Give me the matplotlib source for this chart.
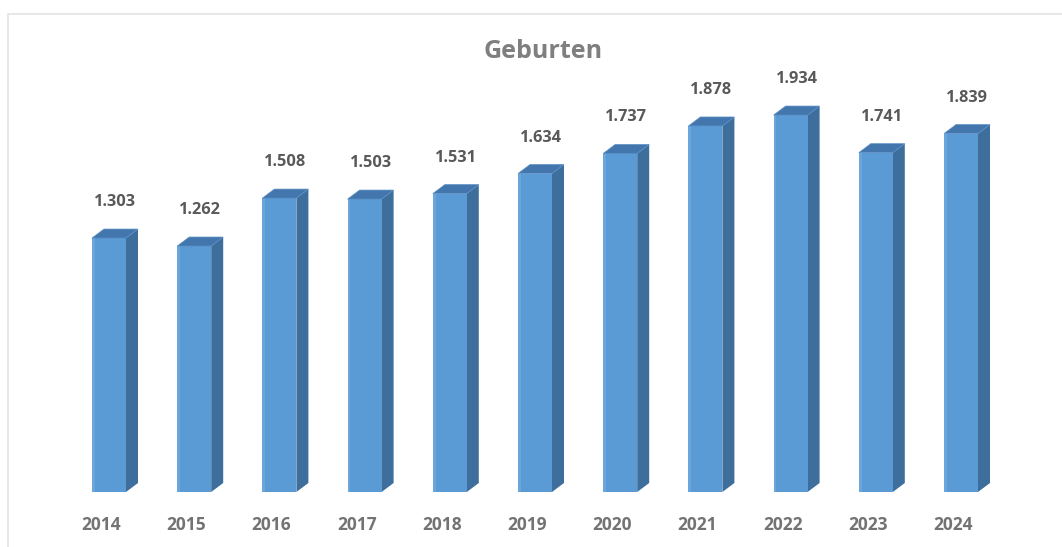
import matplotlib
matplotlib.use("Agg")
import matplotlib.pyplot as plt
from matplotlib.patches import Polygon, Rectangle

# ---- data ----
years = ["2014", "2015", "2016", "2017", "2018", "2019", "2020", "2021", "2022", "2023", "2024"]
births = [1303, 1262, 1508, 1503, 1531, 1634, 1737, 1878, 1934, 1741, 1839]
value_labels = ["1.303", "1.262", "1.508", "1.503", "1.531", "1.634", "1.737", "1.878", "1.934", "1.741", "1.839"]
title = "Geburten"

W, H = 1062, 547
fig = plt.figure(figsize=(W / 100, H / 100), dpi=100)
fig.patch.set_facecolor("white")

# light border (only top and left visible in the reference)
fig.add_artist(Rectangle((8 / W, -0.1), 1.2, (H - 14) / H + 0.1, transform=fig.transFigure,
                         fill=False, edgecolor="#e3e3e3", linewidth=1.2))

# axes in pixel geometry
ax_left, ax_right = 50, 1050
ax_top, ax_bottom = 60, 492
ax = fig.add_axes([ax_left / W, (H - ax_bottom) / H, (ax_right - ax_left) / W, (ax_bottom - ax_top) / H])
ax.set_axis_off()

px_per_cat = 85.2
px_per_val = 0.1949
first_center_px = 109
a = -(first_center_px - ax_left) / px_per_cat
b = a + (ax_right - ax_left) / px_per_cat
ax.set_xlim(a, b)
ax.set_ylim(0, (ax_bottom - ax_top) / px_per_val)

w = 34 / px_per_cat          # front face width
dx = 12 / px_per_cat         # depth offset x
dy = 9 / px_per_val          # depth offset y

front_c = "#5B9BD5"
front_light = "#6AA6DC"
side_c = "#3E6E9B"
top_c = "#4376AD"

for i, v in enumerate(births):
    x0, x1 = i - w / 2, i + w / 2
    # side face
    ax.add_patch(Polygon([(x1, 0), (x1 + dx, dy), (x1 + dx, v + dy), (x1, v)],
                         closed=True, facecolor=side_c, edgecolor="none", zorder=2))
    # front face
    ax.add_patch(Rectangle((x0, 0), w, v, facecolor=front_c, edgecolor="none", zorder=3))
    ax.add_patch(Rectangle((x0, 0), w * 0.08, v, facecolor=front_light, edgecolor="none", zorder=3))
    # top face
    ax.add_patch(Polygon([(x0, v), (x1, v), (x1 + dx, v + dy), (x0 + dx, v + dy)],
                         closed=True, facecolor=top_c, edgecolor="#5a8fc6", linewidth=0.5, zorder=4))
    # value label
    ax.annotate(value_labels[i], xy=(i, v), xytext=(6, 36), textcoords="offset pixels",
                ha="center", va="center", fontsize=11.8, fontweight="bold",
                family="Open Sans", color="#595959", zorder=5)
    # category label
    ax.annotate(years[i], xy=(i, 0), xytext=(-8, -33), textcoords="offset pixels",
                ha="center", va="center", fontsize=12.5, fontweight="bold",
                family="Open Sans", color="#737373", annotation_clip=False, zorder=5)

fig.text(543 / W, 1 - 51 / H, title, ha="center", va="center", fontsize=18,
         fontweight="bold", family="Open Sans", color="#7f7f7f")

fig.savefig("out.png", dpi=100)
